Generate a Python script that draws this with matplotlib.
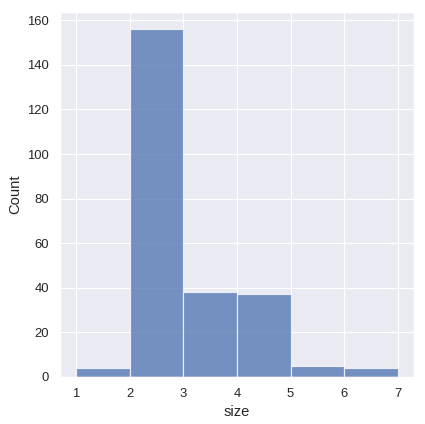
import numpy as np
import matplotlib.pyplot as plt
import seaborn as sns

sns.set_theme(style="darkgrid")
plt.rcParams['font.family'] = ['Liberation Sans', 'DejaVu Sans']
plt.rcParams['xtick.labelsize'] = 11
plt.rcParams['ytick.labelsize'] = 11
plt.rcParams['axes.labelsize'] = 12.5

bin_left = [1, 2, 3, 4, 5, 6]
counts = [4, 156, 38, 37, 5, 4]
bin_width = 1

fig = plt.figure(figsize=(425 / 85, 424 / 85), dpi=85)
ax = fig.add_axes([0.141, 0.111, 0.833, 0.861])
ax.bar(bin_left, counts, width=bin_width, align='edge',
       color=sns.color_palette()[0], alpha=0.75, edgecolor='white', linewidth=1)
ax.set_xlabel('size')
ax.set_ylabel('Count')
ax.set_xticks(range(1, 8))
ax.set_yticks(range(0, 161, 20))
ax.set_xlim(0.7, 7.3)
ax.set_ylim(0, 163.8)
fig.savefig('out.png')
